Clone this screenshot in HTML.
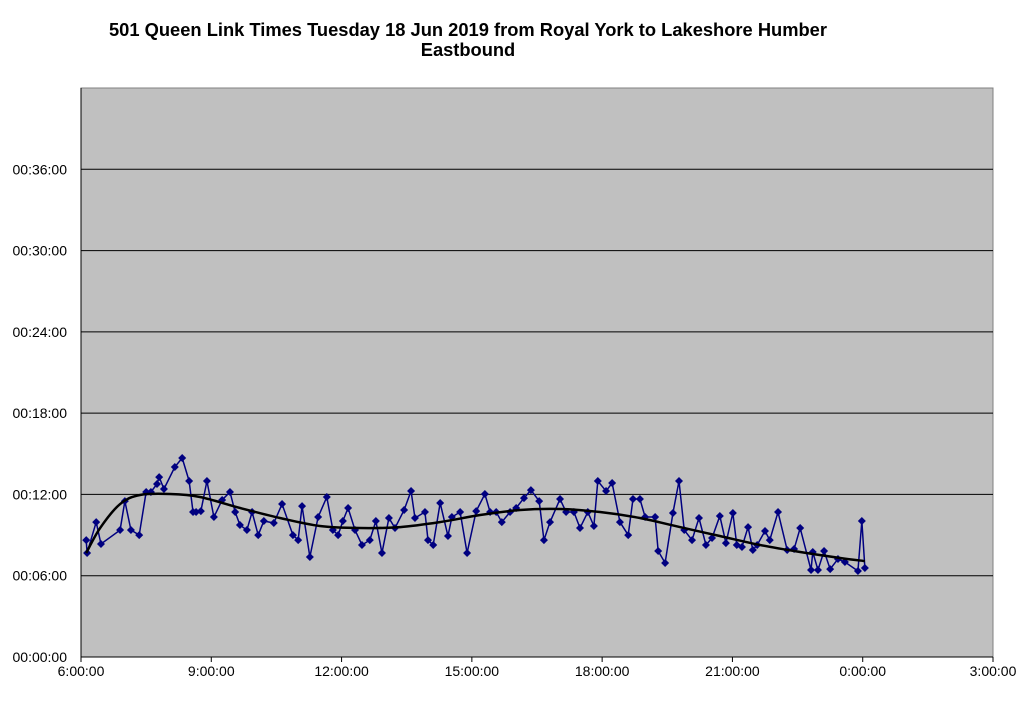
<!DOCTYPE html>
<html><head><meta charset="utf-8"><style>
body{margin:0;background:#fff;width:1024px;height:696px;overflow:hidden;font-family:"Liberation Sans",Arial,sans-serif}
</style></head><body>
<svg id="chart" width="1024" height="696" viewBox="0 0 1024 696" xmlns="http://www.w3.org/2000/svg">
<text x="468" y="36" text-anchor="middle" font-size="18.3" font-weight="bold" font-family="Liberation Sans, Arial, sans-serif" textLength="718" lengthAdjust="spacingAndGlyphs">501 Queen Link Times Tuesday 18 Jun 2019 from Royal York to Lakeshore Humber</text>
<text x="468" y="56" text-anchor="middle" font-size="18.3" font-weight="bold" font-family="Liberation Sans, Arial, sans-serif">Eastbound</text>
<rect x="81" y="88" width="912" height="569" fill="#c0c0c0" stroke="#808080" stroke-width="1"/>
<g id="grid"></g><g id="axes"></g><g id="series"></g>
</svg>
<script>
const hours=[6.12,6.14,6.35,6.46,6.90,7.01,7.15,7.34,7.50,7.61,7.75,7.80,7.91,8.16,8.33,8.49,8.58,8.65,8.76,8.90,9.06,9.25,9.43,9.55,9.66,9.82,9.94,10.08,10.21,10.44,10.63,10.88,11.00,11.09,11.27,11.46,11.66,11.80,11.92,12.03,12.15,12.31,12.47,12.65,12.79,12.93,13.09,13.23,13.44,13.60,13.69,13.92,13.99,14.11,14.27,14.45,14.54,14.73,14.89,15.10,15.30,15.42,15.56,15.69,15.88,16.02,16.20,16.36,16.55,16.66,16.80,17.03,17.17,17.35,17.49,17.67,17.81,17.90,18.09,18.23,18.41,18.60,18.71,18.87,18.99,19.22,19.29,19.45,19.63,19.77,19.89,20.07,20.23,20.39,20.53,20.71,20.85,21.01,21.10,21.22,21.36,21.47,21.57,21.75,21.86,22.05,22.26,22.42,22.56,22.81,22.85,22.97,23.11,23.25,23.43,23.59,23.89,23.98,24.05];
const minutes=[8.63,7.68,9.96,8.34,9.37,11.51,9.37,9.00,12.18,12.18,12.77,13.28,12.40,14.02,14.69,12.99,10.70,10.70,10.77,12.99,10.33,11.59,12.18,10.70,9.74,9.37,10.70,9.00,10.04,9.89,11.29,9.00,8.63,11.14,7.38,10.33,11.81,9.37,9.00,10.04,11.00,9.37,8.27,8.63,10.04,7.68,10.26,9.52,10.85,12.25,10.26,10.70,8.63,8.27,11.37,8.93,10.33,10.70,7.68,10.77,12.03,10.70,10.70,9.96,10.70,11.00,11.73,12.32,11.51,8.63,9.96,11.66,10.70,10.70,9.52,10.70,9.67,12.99,12.25,12.84,9.96,9.00,11.66,11.66,10.33,10.33,7.82,6.94,10.63,12.99,9.37,8.63,10.26,8.27,8.78,10.41,8.41,10.63,8.27,8.12,9.59,7.90,8.27,9.30,8.63,10.70,7.90,7.97,9.52,6.42,7.75,6.42,7.82,6.49,7.23,7.01,6.35,10.04,6.57];
const trendHours=[6.12,6.44,6.90,7.36,8.05,8.74,9.66,10.58,11.50,12.42,13.35,14.27,15.19,16.11,17.03,17.95,18.87,19.79,20.71,21.63,22.56,23.48,24.05];
const trendMinutes=[7.68,9.52,11.29,11.96,12.03,11.81,11.00,10.26,9.67,9.52,9.59,9.96,10.48,10.85,10.92,10.70,10.26,9.59,8.93,8.27,7.75,7.31,7.08];
const yTicks=[0,6,12,18,24,30,36];
const yTickLabels=["00:00:00","00:06:00","00:12:00","00:18:00","00:24:00","00:30:00","00:36:00"];
const xTicks=[6,9,12,15,18,21,24,27];
const xTickLabels=["6:00:00","9:00:00","12:00:00","15:00:00","18:00:00","21:00:00","0:00:00","3:00:00"];

const NS="http://www.w3.org/2000/svg";
const X0=81,X1=993,Y0=657,Y1=88;
const xs=h=>X0+(h-6)/21*(X1-X0);
const ys=m=>Y0-m/42*(Y0-Y1);
function mk(tag,attrs,parent){const e=document.createElementNS(NS,tag);for(const k in attrs)e.setAttribute(k,attrs[k]);parent.appendChild(e);return e;}
const grid=document.getElementById('grid'),axes=document.getElementById('axes'),series=document.getElementById('series');
yTicks.forEach((t,i)=>{
  if(t>0){const l=mk('line',{x1:X0,x2:X1,y1:ys(t),y2:ys(t),stroke:'#000','stroke-width':1},grid);
  
  }
  const tx=mk('text',{x:67,y:ys(t)+5,'text-anchor':'end','font-size':14,'font-family':'Liberation Sans, Arial, sans-serif'},axes);
  tx.textContent=yTickLabels[i];
  
  
});
mk('line',{x1:X0,x2:X0,y1:Y1,y2:Y0,stroke:'#000','stroke-width':1},axes);
mk('line',{x1:X0,x2:X1,y1:Y0,y2:Y0,stroke:'#000','stroke-width':1},axes);
xTicks.forEach((t,i)=>{
  mk('line',{x1:xs(t),x2:xs(t),y1:Y0,y2:Y0+5,stroke:'#000'},axes);
  const tx=mk('text',{x:xs(t),y:Y0+19,'text-anchor':'middle','font-size':14,'font-family':'Liberation Sans, Arial, sans-serif'},axes);
  tx.textContent=xTickLabels[i];
  
  
});
const pts=hours.map((h,i)=>[xs(h),ys(minutes[i])]);
const line=mk('polyline',{points:pts.map(p=>p.join(',')).join(' '),fill:'none',stroke:'#000080','stroke-width':1.5},series);


pts.forEach(p=>{
  const d=mk('path',{d:`M${p[0]},${p[1]-4}L${p[0]+4},${p[1]}L${p[0]},${p[1]+4}L${p[0]-4},${p[1]}Z`,fill:'#000080'},series);
  
  
});
const tp=trendHours.map((h,i)=>[xs(h),ys(trendMinutes[i])]);
let d=`M${tp[0][0]},${tp[0][1]}`;
for(let i=0;i<tp.length-1;i++){
  const p0=tp[i-1]||tp[i],p1=tp[i],p2=tp[i+1],p3=tp[i+2]||p2;
  d+=`C${p1[0]+(p2[0]-p0[0])/6},${p1[1]+(p2[1]-p0[1])/6} ${p2[0]-(p3[0]-p1[0])/6},${p2[1]-(p3[1]-p1[1])/6} ${p2[0]},${p2[1]}`;
}
const tr=mk('path',{d:d,fill:'none',stroke:'#000','stroke-width':2.5},series);


</script>
</body></html>
